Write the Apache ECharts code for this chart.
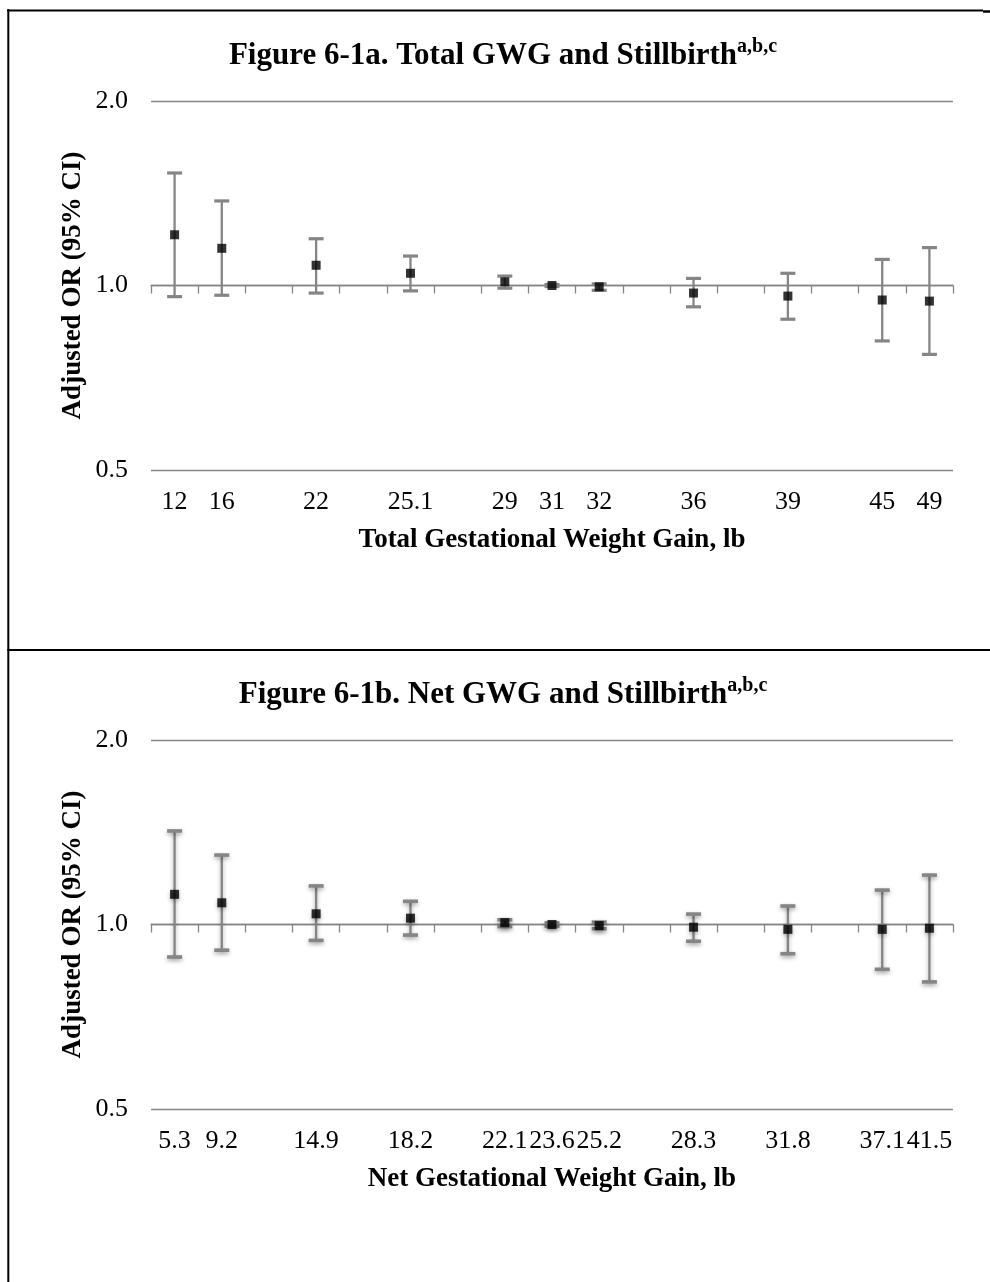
<!DOCTYPE html>
<html><head><meta charset="utf-8">
<script src="https://cdn.jsdelivr.net/npm/echarts@6/dist/echarts.min.js"></script>
<style>html,body{margin:0;padding:0;background:#fff}#c{width:990px;height:1282px}</style>
</head><body><div id="c"></div>
<script>
// ---- Figure 6-1a: Total GWG ----
const totalCats = ['12','16','','22','','25.1','','29','31','32','','36','','39','','45','49'];
const totalGWG  = ['12','16','22','25.1','29','31','32','36','39','45','49'];
const totalOR   = [1.21, 1.15, 1.079, 1.047, 1.014, 1.000, 0.995, 0.972, 0.961, 0.947, 0.943];
const totalLo   = [0.959, 0.964, 0.972, 0.980, 0.990, 0.996, 0.982, 0.923, 0.881, 0.812, 0.772];
const totalHi   = [1.526, 1.374, 1.192, 1.117, 1.036, 1.004, 1.006, 1.027, 1.047, 1.103, 1.153];

// ---- Figure 6-1b: Net GWG ----
const netCats = ['5.3','9.2','','14.9','','18.2','','22.1','23.6','25.2','','28.3','','31.8','','37.1','41.5'];
const netGWG  = ['5.3','9.2','14.9','18.2','22.1','23.6','25.2','28.3','31.8','37.1','41.5'];
const netOR   = [1.120, 1.085, 1.041, 1.024, 1.007, 1.000, 0.996, 0.990, 0.982, 0.982, 0.986];
const netLo   = [0.885, 0.908, 0.942, 0.961, 0.992, 0.994, 0.984, 0.939, 0.896, 0.845, 0.806];
const netHi   = [1.421, 1.298, 1.156, 1.091, 1.018, 1.006, 1.009, 1.040, 1.072, 1.138, 1.204];

const yMin = 0.5, yMax = 2.0;
const titleA = 'Figure 6-1a. Total GWG and Stillbirth';
const titleB = 'Figure 6-1b. Net GWG and Stillbirth';
const titleSup = 'a,b,c';
const xNameA = 'Total Gestational Weight Gain, lb';
const xNameB = 'Net Gestational Weight Gain, lb';
const yName = 'Adjusted OR (95% CI)';

const FONT = '"Liberation Serif", "Times New Roman", serif';
const GRAY = '#858585';

const chart = echarts.init(document.getElementById('c'), null, {renderer: 'canvas'});

function errRender(shadow) {
  return function (params, api) {
    const x = api.value(0);
    const lo = api.coord([x, api.value(1)]);
    const hi = api.coord([x, api.value(2)]);
    const cw = 7.5;
    const sh = shadow ? {shadowBlur: 4, shadowOffsetY: 2, shadowColor: 'rgba(0,0,0,0.35)'} : {};
    const capW = shadow ? 3.6 : 3.2;
    return {
      type: 'group',
      children: [
        {type: 'line', shape: {x1: lo[0], y1: lo[1], x2: hi[0], y2: hi[1]},
         style: Object.assign({stroke: GRAY, lineWidth: 2.3}, sh)},
        {type: 'line', shape: {x1: lo[0] - cw, y1: lo[1], x2: lo[0] + cw, y2: lo[1]},
         style: Object.assign({stroke: GRAY, lineWidth: capW}, sh)},
        {type: 'line', shape: {x1: hi[0] - cw, y1: hi[1], x2: hi[0] + cw, y2: hi[1]},
         style: Object.assign({stroke: GRAY, lineWidth: capW}, sh)}
      ]
    };
  };
}

const gridTops = [101, 740];
const gridH = 369;
const panels = [
  {cats: totalCats, gwg: totalGWG, or: totalOR, lo: totalLo, hi: totalHi, xName: xNameA, title: titleA, shadow: false},
  {cats: netCats, gwg: netGWG, or: netOR, lo: netLo, hi: netHi, xName: xNameB, title: titleB, shadow: true}
];

const option = {
  animation: false,
  backgroundColor: '#fff',
  title: [], grid: [], xAxis: [], yAxis: [], series: [],
  graphic: [
    {type: 'line', shape: {x1: 8.3, y1: 9, x2: 8.3, y2: 1282}, style: {stroke: '#000', lineWidth: 2}},
    {type: 'line', shape: {x1: 7.3, y1: 10.5, x2: 983, y2: 10.5}, style: {stroke: '#000', lineWidth: 2}},
    {type: 'line', shape: {x1: 983, y1: 11.5, x2: 990, y2: 11.5}, style: {stroke: '#000', lineWidth: 2.5}},
    {type: 'line', shape: {x1: 7.3, y1: 650, x2: 990, y2: 650}, style: {stroke: '#000', lineWidth: 2}}
  ]
};

panels.forEach((p, i) => {
  const top = gridTops[i];
  option.title.push({
    text: '{m|' + p.title + '}{s|' + titleSup + '}',
    left: 498, top: top - 70, textAlign: 'center',
    textStyle: {
      rich: {
        m: {fontFamily: FONT, fontWeight: 'bold', fontSize: 31, color: '#000', lineHeight: 35, verticalAlign: 'bottom'},
        s: {fontFamily: FONT, fontWeight: 'bold', fontSize: 20, color: '#000', lineHeight: 35, verticalAlign: 'top', padding: [1, 0, 0, 0]}
      }
    }
  });
  option.grid.push({left: 151, width: 802, top: top, height: gridH, outerBoundsMode: 'none', containLabel: false});
  // label axis (bottom)
  option.xAxis.push({
    type: 'category', gridIndex: i, data: p.cats, position: 'bottom', boundaryGap: true,
    axisLine: {show: false}, axisTick: {show: false}, splitLine: {show: false},
    axisLabel: {interval: 0, margin: 19, color: '#000', fontFamily: FONT, fontSize: 26},
    name: p.xName, nameLocation: 'middle', nameGap: 57, nameMoveOverlap: false,
    nameTextStyle: {fontFamily: FONT, fontWeight: 'bold', fontSize: 27, color: '#000'}
  });
  // axis line crossing at OR = 1.0
  option.xAxis.push({
    type: 'category', gridIndex: i, data: p.cats, position: 'bottom', boundaryGap: true,
    offset: -gridH / 2,
    axisLine: {show: true, lineStyle: {color: GRAY, width: 1.3}},
    axisTick: {show: true, interval: 0, length: 8, lineStyle: {color: GRAY, width: 1.3}},
    axisLabel: {show: false}, splitLine: {show: false}
  });
  option.yAxis.push({
    type: 'log', logBase: 2, gridIndex: i, min: yMin, max: yMax,
    axisLine: {show: false}, axisTick: {show: false}, minorTick: {show: false},
    splitLine: {show: true, lineStyle: {color: GRAY, width: 1.3}},
    axisLabel: {formatter: v => v.toFixed(1), margin: 23, color: '#000', fontFamily: FONT, fontSize: 26},
    name: yName, nameLocation: 'middle', nameGap: 64, nameMoveOverlap: false,
    nameTextStyle: {fontFamily: FONT, fontWeight: 'bold', fontSize: 27, color: '#000'}
  });
  option.series.push({
    type: 'custom', xAxisIndex: i * 2, yAxisIndex: i, z: 2,
    data: p.gwg.map((g, k) => [g, p.lo[k], p.hi[k]]),
    encode: {x: 0, y: [1, 2]},
    renderItem: errRender(p.shadow)
  });
  option.series.push({
    type: 'scatter', xAxisIndex: i * 2, yAxisIndex: i, z: 3,
    symbol: 'rect', symbolSize: 9,
    itemStyle: Object.assign({color: '#000'}, p.shadow ? {shadowBlur: 4, shadowOffsetY: 2, shadowColor: 'rgba(0,0,0,0.35)'} : {}),
    data: p.gwg.map((g, k) => [g, p.or[k]])
  });
});

chart.setOption(option);
</script></body></html>
